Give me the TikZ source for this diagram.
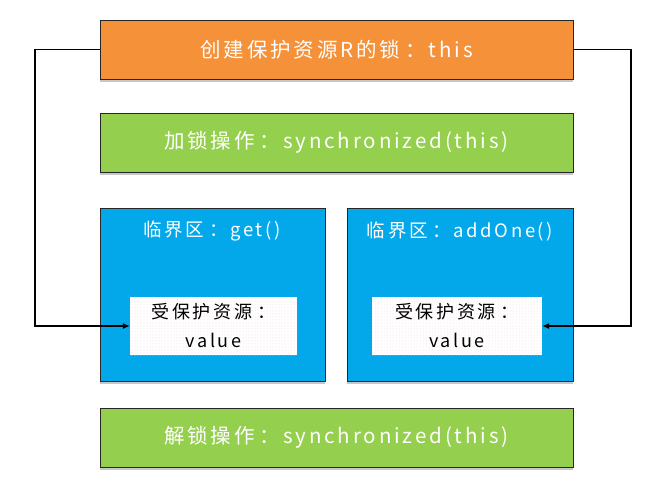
\documentclass[tikz,border=0pt]{standalone}
\usepackage{fontspec}
\setmainfont{Noto Sans CJK SC}
\newfontfamily\cjk{Noto Sans CJK SC}[LetterSpace=14]
\usetikzlibrary{arrows.meta,shadows,patterns}
\definecolor{lockorange}{HTML}{F59138}
\definecolor{lockgreen}{HTML}{94CF4D}
\definecolor{lockblue}{HTML}{03A8EA}
\definecolor{dotpink}{HTML}{F2D6D6}
% full-width colon with a little air on its left
\newcommand{\colonsep}{\hspace{5pt}：}
\tikzset{
  boxbase/.style={draw=black!85, line width=0.9pt, rectangle, inner sep=0pt,
    drop shadow={shadow xshift=0pt, shadow yshift=-3pt, fill=black, opacity=0.22}},
  bar/.style={boxbase, minimum width=473pt, minimum height=59pt,
    text=white, font=\cjk\fontsize{20.5}{24}\selectfont},
  region/.style={boxbase, fill=lockblue, minimum height=173pt},
  regiontitle/.style={text=white, font=\cjk\fontsize{18.5}{22}\selectfont},
  resource/.style={fill=white, postaction={pattern=dots, pattern color=dotpink},
    minimum height=58pt, inner sep=0pt, align=center, text=black,
    font=\cjk\fontsize{18}{29}\selectfont},
  arr/.style={draw=black, line width=1.1pt, -{Latex[length=7pt,width=6pt]}}
}
\begin{document}
\begin{tikzpicture}[x=1pt, y=-1pt]
  \useasboundingbox (0,0) rectangle (650,497);
  % top bars
  \node[bar, fill=lockorange] (create) at (336.5,49.5) {创建保护资源R的锁\colonsep this};
  \node[bar, fill=lockgreen] (lock) at (336.5,142.5) {加锁操作\colonsep synchronized(this)};
  % critical sections
  \node[region, minimum width=225pt] (get) at (212.5,294.5) {};
  \node[region, minimum width=226pt] (add) at (460,294.5) {};
  \node[regiontitle] (gettitle) at (212,231) {临界区\colonsep get()};
  \node[regiontitle] (addtitle) at (460,231) {临界区\colonsep addOne()};
  % protected resource
  \node[resource, minimum width=167pt] (resL) at (213.5,326) {受保护资源\colonsep\\value};
  \node[resource, minimum width=170pt] (resR) at (457,326) {受保护资源\colonsep\\value};
  % bottom bar
  \node[bar, fill=lockgreen] (unlock) at (336.5,437.5) {解锁操作\colonsep synchronized(this)};
  % lock references
  \coordinate (lc) at (35,49.5);
  \coordinate (rc) at (631,49.5);
  \draw[arr] (create.west) -- (lc) |- (resL.west);
  \draw[arr] (create.east) -- (rc) |- (resR.east);
\end{tikzpicture}
\end{document}
